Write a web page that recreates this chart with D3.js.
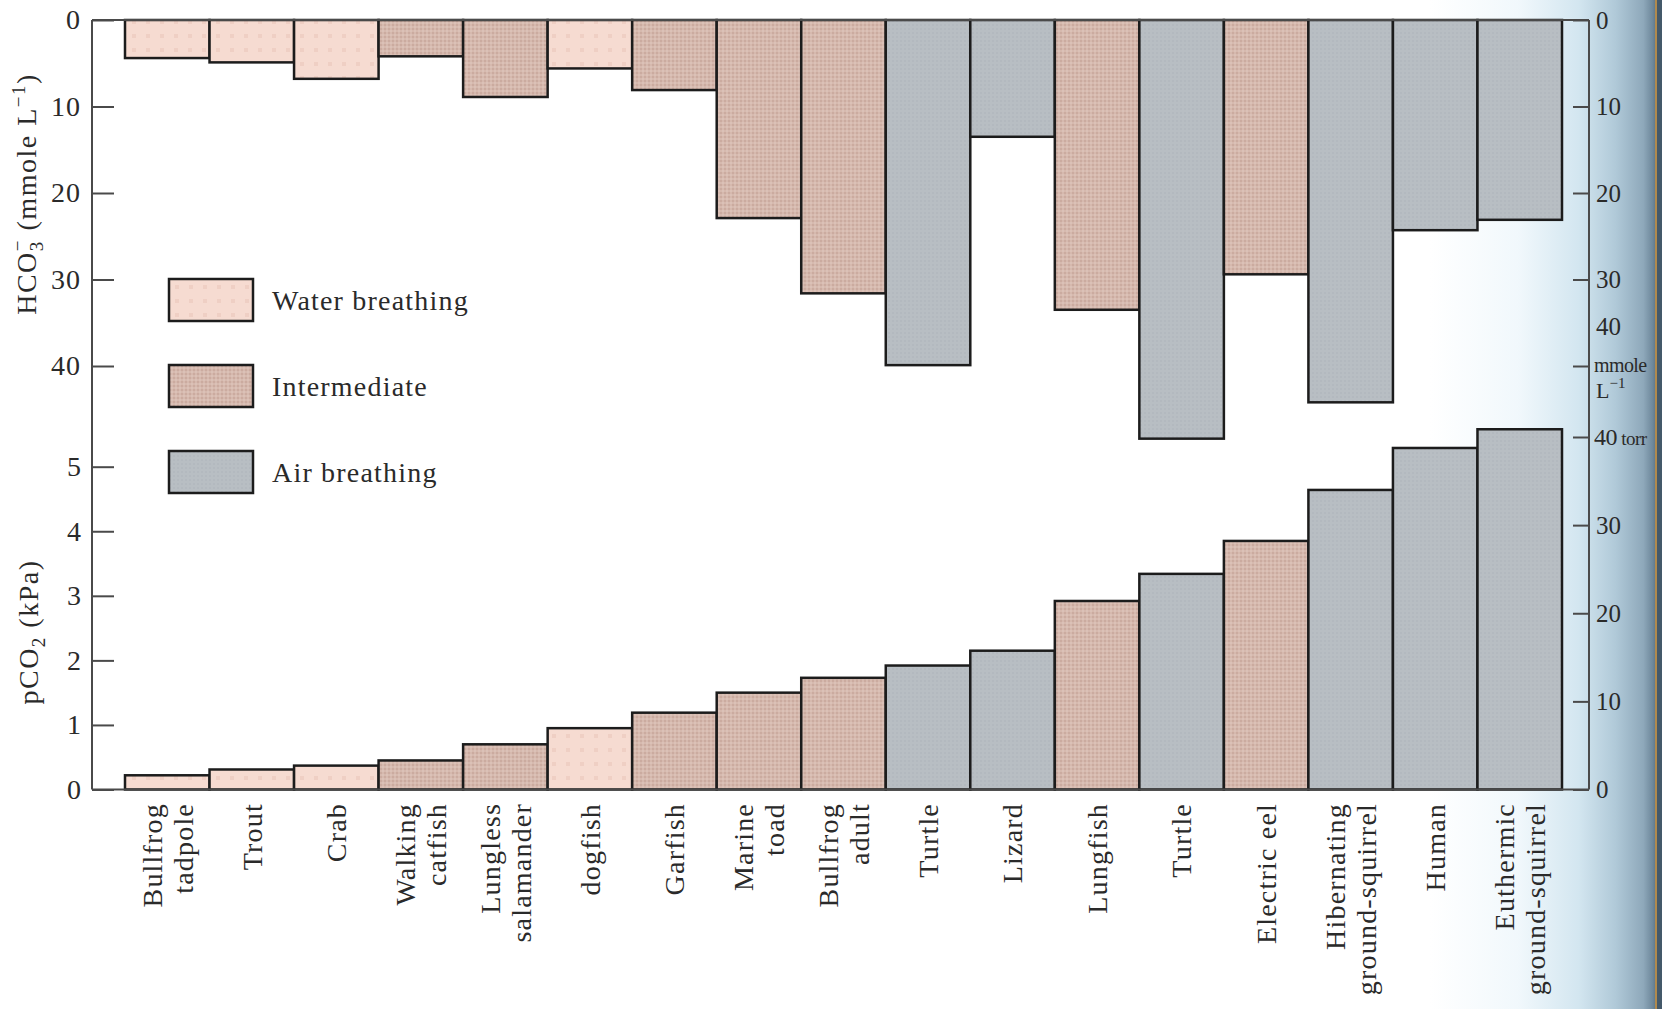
<!DOCTYPE html>
<html>
<head>
<meta charset="utf-8">
<script src="https://cdn.jsdelivr.net/npm/d3@7"></script>
<style>
  html, body { margin: 0; padding: 0; background: #fff; }
  svg { display: block; }
  text { font-family: "Liberation Serif", "DejaVu Serif", serif; fill: #2a2a2a; }
</style>
</head>
<body>
<svg id="chart" width="1662" height="1009"></svg>
<script>
// ---------------- data ----------------
const categories = [
  ["Bullfrog", "tadpole"], ["Trout"], ["Crab"], ["Walking", "catfish"],
  ["Lungless", "salamander"], ["dogfish"], ["Garfish"], ["Marine", "toad"],
  ["Bullfrog", "adult"], ["Turtle"], ["Lizard"], ["Lungfish"], ["Turtle"],
  ["Electric eel"], ["Hibernating", "ground-squirrel"], ["Human"],
  ["Euthermic", "ground-squirrel"]
];
const groups = ["water", "water", "water", "inter", "inter", "water", "inter", "inter",
  "inter", "air", "air", "inter", "air", "inter", "air", "air", "air"];
// plasma bicarbonate, mmole per litre (upper panel, hanging bars)
const hco3 = [4.4, 4.9, 6.8, 4.2, 8.9, 5.6, 8.1, 22.9, 31.6, 39.9, 13.5, 33.5, 48.4, 29.4, 44.2, 24.3, 23.1];
// blood pCO2, kPa (lower panel)
const pco2 = [0.22, 0.31, 0.37, 0.45, 0.70, 0.95, 1.19, 1.50, 1.73, 1.92, 2.15, 2.92, 3.34, 3.85, 4.64, 5.29, 5.58];
const hco3Ticks = [0, 10, 20, 30, 40];
const pco2Ticks = [0, 1, 2, 3, 4, 5];
const torrTicks = [0, 10, 20, 30, 40];
const legendKeys = ["water", "inter", "air"];
const legendLabels = ["Water breathing", "Intermediate", "Air breathing"];

// ---------------- layout ----------------
const svg = d3.select("#chart");
const W = 1662, H = 1009;
const axL = 92, axR = 1589, yTopLine = 20, yBase = 789.5;

const x = d3.scaleBand().domain(d3.range(categories.length)).range([125, 1562]).padding(0);
const yTop = d3.scaleLinear().domain([0, 40]).range([yTopLine, 366]);
const yBot = d3.scaleLinear().domain([0, 5]).range([yBase, 466.7]);
const yTorr = d3.scaleLinear().domain([0, 40]).range([yBase, 437]);

// ---------------- defs ----------------
const defs = svg.append("defs");
const grad = defs.append("linearGradient").attr("id", "bgGrad")
  .attr("gradientUnits", "userSpaceOnUse").attr("x1", 1430).attr("x2", 1662).attr("y1", 0).attr("y2", 0);
[[0, "#ffffff"], [0.38, "#f1f8fc"], [0.64, "#d3e6f0"], [0.80, "#b0c9d8"], [0.92, "#8ea8ba"],
 [0.96, "#6e889b"], [1, "#3f5565"]].forEach(([o, c]) => grad.append("stop").attr("offset", o).attr("stop-color", c));

const pw = defs.append("pattern").attr("id", "pat-water").attr("patternUnits", "userSpaceOnUse")
  .attr("width", 14).attr("height", 14);
pw.append("rect").attr("width", 14).attr("height", 14).attr("fill", "#f6dbd1");
pw.append("rect").attr("x", 6).attr("y", 6).attr("width", 4).attr("height", 4).attr("fill", "#efcfc4");

const pi = defs.append("pattern").attr("id", "pat-inter").attr("patternUnits", "userSpaceOnUse")
  .attr("width", 4).attr("height", 4);
pi.append("rect").attr("width", 4).attr("height", 4).attr("fill", "#d6b9ae");
pi.append("circle").attr("cx", 1).attr("cy", 1).attr("r", 0.9).attr("fill", "#c6a599");
pi.append("circle").attr("cx", 3).attr("cy", 3).attr("r", 0.8).attr("fill", "#e2cbc2");

const pa = defs.append("pattern").attr("id", "pat-air").attr("patternUnits", "userSpaceOnUse")
  .attr("width", 4).attr("height", 4);
pa.append("rect").attr("width", 4).attr("height", 4).attr("fill", "#b8bec3");
pa.append("circle").attr("cx", 1).attr("cy", 1).attr("r", 0.8).attr("fill", "#adb4ba");

const fill = k => `url(#pat-${k})`;

// background
svg.append("rect").attr("width", W).attr("height", H).attr("fill", "url(#bgGrad)");

const g = svg.append("g");

// ---------------- bars ----------------
g.append("g").selectAll("rect").data(hco3).join("rect")
  .attr("x", (d, i) => x(i)).attr("width", x.bandwidth())
  .attr("y", yTop(0)).attr("height", d => yTop(d) - yTop(0))
  .attr("fill", (d, i) => fill(groups[i]))
  .attr("stroke", "#1c1c1c").attr("stroke-width", 2.5);

g.append("g").selectAll("rect").data(pco2).join("rect")
  .attr("x", (d, i) => x(i)).attr("width", x.bandwidth())
  .attr("y", d => yBot(d)).attr("height", d => yBot(0) - yBot(d))
  .attr("fill", (d, i) => fill(groups[i]))
  .attr("stroke", "#1c1c1c").attr("stroke-width", 2.5);

// ---------------- frame lines ----------------
const lineCol = "#4a4a4a";
g.append("line").attr("x1", axL).attr("x2", axR).attr("y1", yTopLine).attr("y2", yTopLine)
  .attr("stroke", lineCol).attr("stroke-width", 2);
g.append("line").attr("x1", axL).attr("x2", axR).attr("y1", yBase).attr("y2", yBase)
  .attr("stroke", lineCol).attr("stroke-width", 2);
g.append("line").attr("x1", axL).attr("x2", axL).attr("y1", yTopLine).attr("y2", yBase)
  .attr("stroke", lineCol).attr("stroke-width", 2);
g.append("line").attr("x1", axR).attr("x2", axR).attr("y1", yTopLine).attr("y2", yBase)
  .attr("stroke", lineCol).attr("stroke-width", 2);

// ---------------- axes ----------------
function styleAxis(sel, size) {
  sel.select(".domain").remove();
  sel.selectAll(".tick line").attr("stroke", lineCol).attr("stroke-width", 2);
  sel.selectAll(".tick text").attr("font-family", "Liberation Serif, serif")
    .attr("font-size", size).attr("fill", "#2a2a2a");
}
const fmt = d3.format("d");

const leftTop = g.append("g").attr("transform", `translate(${axL},0)`)
  .call(d3.axisLeft(yTop).tickValues(hco3Ticks).tickFormat(fmt).tickSizeInner(-22).tickSizeOuter(0).tickPadding(11));
styleAxis(leftTop, 28);
leftTop.selectAll(".tick text").attr("letter-spacing", 1);

const leftBot = g.append("g").attr("transform", `translate(${axL},0)`)
  .call(d3.axisLeft(yBot).tickValues(pco2Ticks).tickFormat(fmt).tickSizeInner(-22).tickSizeOuter(0).tickPadding(11));
styleAxis(leftBot, 28);

const rightTop = g.append("g").attr("transform", `translate(${axR},0)`)
  .call(d3.axisRight(yTop).tickValues(hco3Ticks).tickSizeInner(-16).tickSizeOuter(0).tickPadding(7)
    .tickFormat(d => d === 40 ? "" : fmt(d)));
styleAxis(rightTop, 25);

const rightBot = g.append("g").attr("transform", `translate(${axR},0)`)
  .call(d3.axisRight(yTorr).tickValues(torrTicks).tickSizeInner(-16).tickSizeOuter(0).tickPadding(5)
    .tickFormat(d => d === 40 ? "" : fmt(d)));
styleAxis(rightBot, 25);
rightBot.selectAll(".tick text").attr("dx", 2);
// the 40 torr label, sized so it stays inside the page edge
const torrLab = g.append("text").attr("x", axR + 5).attr("y", yTorr(40)).attr("dy", "0.35em")
  .attr("font-size", 24).attr("letter-spacing", -0.5);
torrLab.append("tspan").text("40");
torrLab.append("tspan").attr("font-size", 19).text(" torr");

// unit labels on the right top axis
const unitG = g.append("g");
unitG.append("text").attr("x", axR + 7).attr("y", yTop(40) - 40).attr("dy", "0.35em")
  .attr("font-size", 25).text("40");
unitG.append("text").attr("x", axR + 5).attr("y", yTop(40) + 6).attr("font-size", 20)
  .attr("letter-spacing", -0.6).text("mmole");
const lt = unitG.append("text").attr("x", axR + 7).attr("y", yTop(40) + 32).attr("font-size", 22);
lt.append("tspan").text("L");
lt.append("tspan").attr("dy", -10).attr("font-size", 15).text("−1");

// ---------------- axis titles ----------------
const t1 = g.append("text").attr("transform", `translate(36,194) rotate(-90)`)
  .attr("text-anchor", "middle").attr("font-size", 28).attr("letter-spacing", 1.5);
t1.append("tspan").text("HCO");
t1.append("tspan").attr("dy", 7).attr("font-size", 19).text("3");
t1.append("tspan").attr("dx", -11).attr("dy", -19).attr("font-size", 19).text("−");
t1.append("tspan").attr("dy", 12).text(" (mmole L");
t1.append("tspan").attr("dy", -11).attr("font-size", 19).text("−1");
t1.append("tspan").attr("dy", 11).text(")");

const t2 = g.append("text").attr("transform", `translate(38,632) rotate(-90)`)
  .attr("text-anchor", "middle").attr("font-size", 28).attr("letter-spacing", 1.5);
t2.append("tspan").text("pCO");
t2.append("tspan").attr("dy", 7).attr("font-size", 19).text("2");
t2.append("tspan").attr("dy", -7).text(" (kPa)");

// ---------------- category labels ----------------
const lineGap = 31;
const labG = g.append("g").selectAll("g").data(categories).join("g")
  .attr("transform", (d, i) => `translate(${x(i) + x.bandwidth() / 2},803) rotate(-90)`);
labG.each(function (lines) {
  const t = d3.select(this).append("text").attr("text-anchor", "end")
    .attr("font-size", 28).attr("letter-spacing", 1.2);
  lines.forEach((ln, k) => {
    t.append("tspan").attr("x", 0)
      .attr("y", (k - (lines.length - 1) / 2) * lineGap)
      .attr("dy", "0.35em").text(ln);
  });
});

// ---------------- legend ----------------
const leg = g.append("g").selectAll("g").data(legendKeys).join("g")
  .attr("transform", (d, i) => `translate(169,${279 + i * 86})`);
leg.append("rect").attr("width", 84).attr("height", 42)
  .attr("fill", d => fill(d)).attr("stroke", "#1c1c1c").attr("stroke-width", 2.5);
leg.append("text").attr("x", 103).attr("y", 21).attr("dy", "0.35em")
  .attr("font-size", 28).attr("letter-spacing", 1.2)
  .text((d, i) => legendLabels[i]);

// ---------------- page edge ----------------
svg.append("rect").attr("x", 1655).attr("y", 0).attr("width", 7).attr("height", H).attr("fill", "#44596a");
svg.append("line").attr("x1", 1656).attr("x2", 1656).attr("y1", 0).attr("y2", H)
  .attr("stroke", "#b08a4e").attr("stroke-width", 2);
</script>
</body>
</html>
